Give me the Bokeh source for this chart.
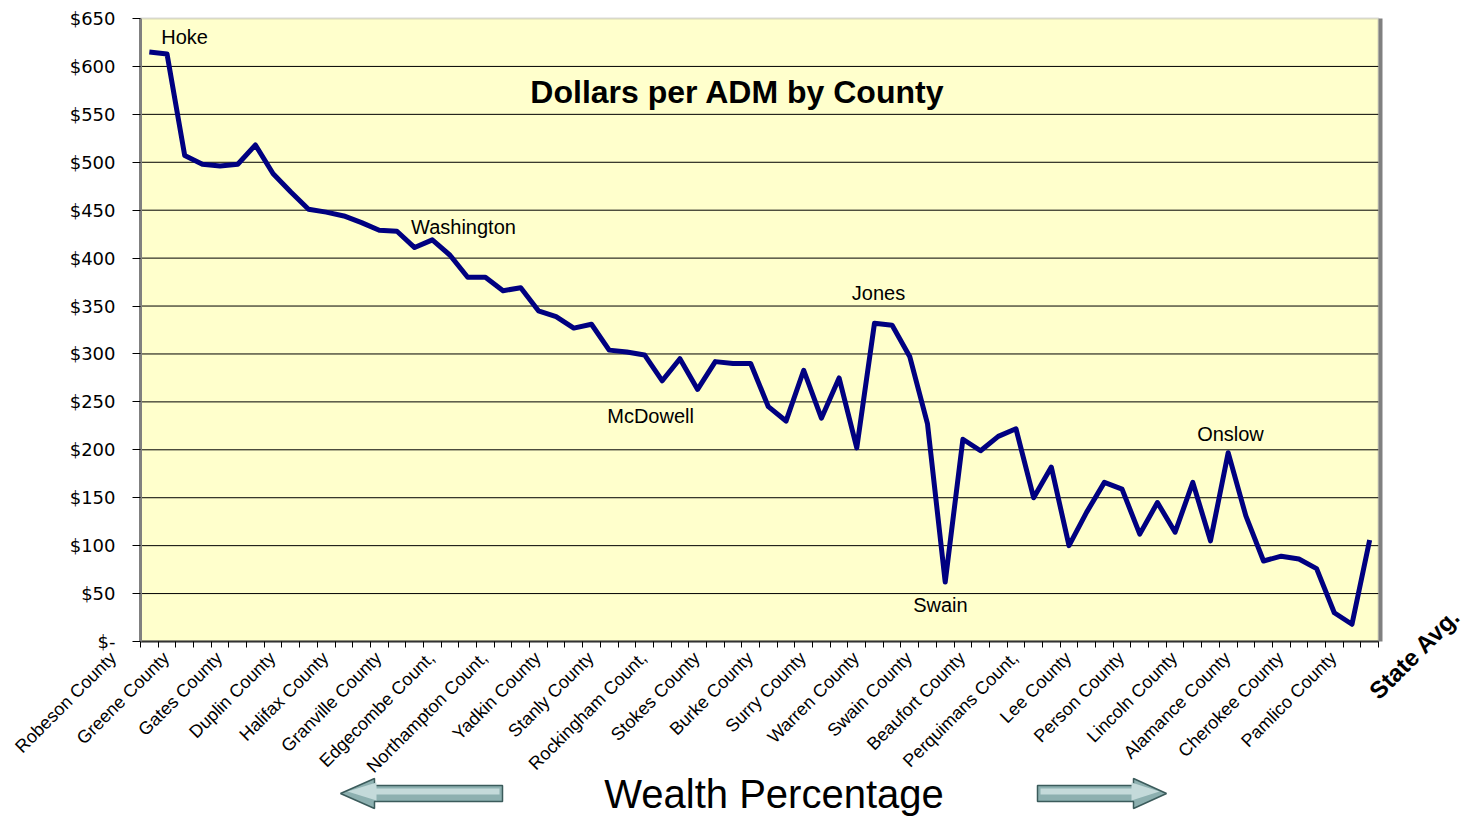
from math import pi
from bokeh.plotting import figure
from bokeh.models import Range1d, FixedTicker, BoxAnnotation
from bokeh.core.properties import value
from bokeh.embed import file_html
from bokeh.resources import INLINE

# ---------------- data ----------------
values = [615, 613, 507, 498, 496, 498, 518, 488, 469, 451,
          448, 444, 437, 429, 428, 411, 419, 403, 380, 380,
          366, 369, 345, 339, 327, 331, 304, 302, 299, 272,
          295, 263, 292, 290, 290, 245, 230, 283, 233, 275,
          202, 332, 330, 297, 227, 62, 211, 199, 214, 222,
          150, 182, 100, 135, 166, 159, 112, 145, 114, 166,
          105, 197, 131, 84, 89, 86, 76, 30, 18, 106]

county_labels = ["Robeson County", "Greene County", "Gates County", "Duplin County",
                 "Halifax County", "Granville County", "Edgecombe Count,",
                 "Northampton Count,", "Yadkin County", "Stanly County",
                 "Rockingham Count,", "Stokes County", "Burke County", "Surry County",
                 "Warren County", "Swain County", "Beaufort County", "Perquimans Count,",
                 "Lee County", "Person County", "Lincoln County", "Alamance County",
                 "Cherokee County", "Pamlico County"]
label_positions = [1, 4, 7, 10, 13, 16, 19, 22, 25, 28, 31, 34, 37, 40, 43, 46,
                   49, 52, 55, 58, 61, 64, 67, 70]

y_ticks = [0, 50, 100, 150, 200, 250, 300, 350, 400, 450, 500, 550, 600, 650]
y_tick_labels = ["$-", "$50", "$100", "$150", "$200", "$250", "$300", "$350",
                 "$400", "$450", "$500", "$550", "$600", "$650"]

callouts = ["Hoke", "Washington", "Jones", "McDowell", "Swain", "Onslow"]
callout_x = [2.49, 18.26, 41.73, 28.84, 45.23, 61.63]
callout_y = [631, 432, 364, 235, 38, 217]

n = len(values)
xs = [i + 0.5 for i in range(n)]

# ---------------- layout (pixels of the canvas) ----------------
W, H = 1474, 816
PX_LEFT, PX_RIGHT, PX_TOP, PX_BOTTOM = 140, 1378, 18, 641   # plot area box
XMAX, YMAX = n, 650
kx = (PX_RIGHT - PX_LEFT) / XMAX
ky = (PX_BOTTOM - PX_TOP) / YMAX


def px2data(px, py):
    """canvas pixel -> data coordinates (decorations outside the plot box)"""
    return (px - PX_LEFT) / kx, (PX_BOTTOM - py) / ky


x0, ytop = px2data(0, 0)
x1, y0 = px2data(W, H)

p = figure(width=W, height=H,
           x_range=Range1d(x0, x1), y_range=Range1d(y0, ytop),
           output_backend="svg", toolbar_location=None,
           min_border=0, min_border_left=0, min_border_right=0,
           min_border_top=0, min_border_bottom=0)

p.background_fill_color = "white"
p.border_fill_color = "white"
p.outline_line_color = None
p.grid.visible = False

FONT = "Liberation Sans"

# plot area box (yellow fill, grey border)
p.add_layout(BoxAnnotation(left=0, right=XMAX, bottom=0, top=YMAX,
                           fill_color="#FFFFCC", fill_alpha=1.0,
                           line_color="#808080", line_width=2, level="underlay"))

# horizontal gridlines
gy = y_ticks[1:-1]
p.segment(x0=[0] * len(gy), x1=[XMAX] * len(gy), y0=gy, y1=gy,
          line_color="black", line_width=1)

# right-hand shadow of the plot box
sx, _ = px2data(PX_RIGHT + 2, 0)
p.segment(x0=[sx], x1=[sx], y0=[0], y1=[YMAX], line_color="#808080", line_width=4)

# y axis (drawn at x = 0)
yax = p.yaxis[0]
yax.fixed_location = 0
yax.bounds = (0, YMAX)
yax.ticker = FixedTicker(ticks=y_ticks)
yax.major_label_overrides = {t: s for t, s in zip(y_ticks, y_tick_labels)}
yax.major_label_text_font = "DejaVu Sans"
yax.major_label_text_font_size = "18px"
yax.major_label_text_color = "black"
yax.major_label_standoff = 17
yax.major_tick_out = 8
yax.major_tick_in = 0
yax.major_tick_line_color = "black"
yax.minor_tick_line_color = None
yax.axis_line_color = "#808080"
yax.axis_line_width = 3

# x axis (drawn at y = 0): category boundary ticks
xax = p.xaxis[0]
xax.fixed_location = 0
xax.bounds = (0, XMAX)
xax.ticker = FixedTicker(ticks=[], minor_ticks=list(range(0, n + 1)))
xax.major_label_text_font_size = "0px"
xax.minor_tick_out = 6
xax.minor_tick_in = 0
xax.minor_tick_line_color = "black"
xax.minor_tick_line_width = 1
xax.major_tick_line_color = None
xax.axis_line_color = "#333333"
xax.axis_line_width = 2

# data line
p.line(xs, values, line_color="#000080", line_width=5, line_join="round")

# rotated category labels (every third county)
p.text(x=[pos - 0.5 - 2.45 for pos in label_positions],
       y=[-6.7] * len(label_positions), text=county_labels,
       angle=pi / 4, text_align="right", text_baseline="top",
       text_font=value(FONT), text_font_size="18px", text_color="black")

sax, say = px2data(1414, 653)
p.text(x=[sax], y=[say], text=["State Avg."], angle=pi / 4,
       text_align="center", text_baseline="middle",
       text_font=value(FONT), text_font_size="24px", text_font_style="bold",
       text_color="black")

# title inside the plot area
tx, ty = px2data(737, 91)
p.text(x=[tx], y=[ty], text=["Dollars per ADM by County"],
       text_align="center", text_baseline="middle",
       text_font=value(FONT), text_font_size="32px", text_font_style="bold",
       text_color="black")

# callouts
p.text(x=callout_x, y=callout_y, text=callouts,
       text_align="center", text_baseline="middle",
       text_font=value(FONT), text_font_size="20px", text_color="black")

# caption with arrows
wx, wy = px2data(773.5, 793)
p.text(x=[wx], y=[wy], text=["Wealth Percentage"], text_align="center",
       text_baseline="middle", text_font=value(FONT),
       text_font_size="40px", text_color="black")


def arrow(tip_x, base_x, end_x, cy, head_half=15, body_half=8):
    pts = [(tip_x, cy), (base_x, cy - head_half), (base_x, cy - body_half),
           (end_x, cy - body_half), (end_x, cy + body_half), (base_x, cy + body_half),
           (base_x, cy + head_half)]
    d = [px2data(a, b) for a, b in pts]
    return [q[0] for q in d], [q[1] for q in d]


ax1 = arrow(340, 374, 502, 793)
ax2 = arrow(1166, 1133, 1037, 793)
p.patches(xs=[ax1[0], ax2[0]], ys=[ax1[1], ax2[1]],
          fill_color="#8DB0B0", line_color="#3B5B5B", line_width=1.5)

# lighter band to suggest the arrows' shading
hl1 = arrow(347, 376, 499, 791, head_half=9, body_half=3)
hl2 = arrow(1159, 1131, 1040, 791, head_half=9, body_half=3)
p.patches(xs=[hl1[0], hl2[0]], ys=[hl1[1], hl2[1]],
          fill_color="#C4DADA", line_color=None)

open("out.html", "w").write(file_html(p, INLINE))
